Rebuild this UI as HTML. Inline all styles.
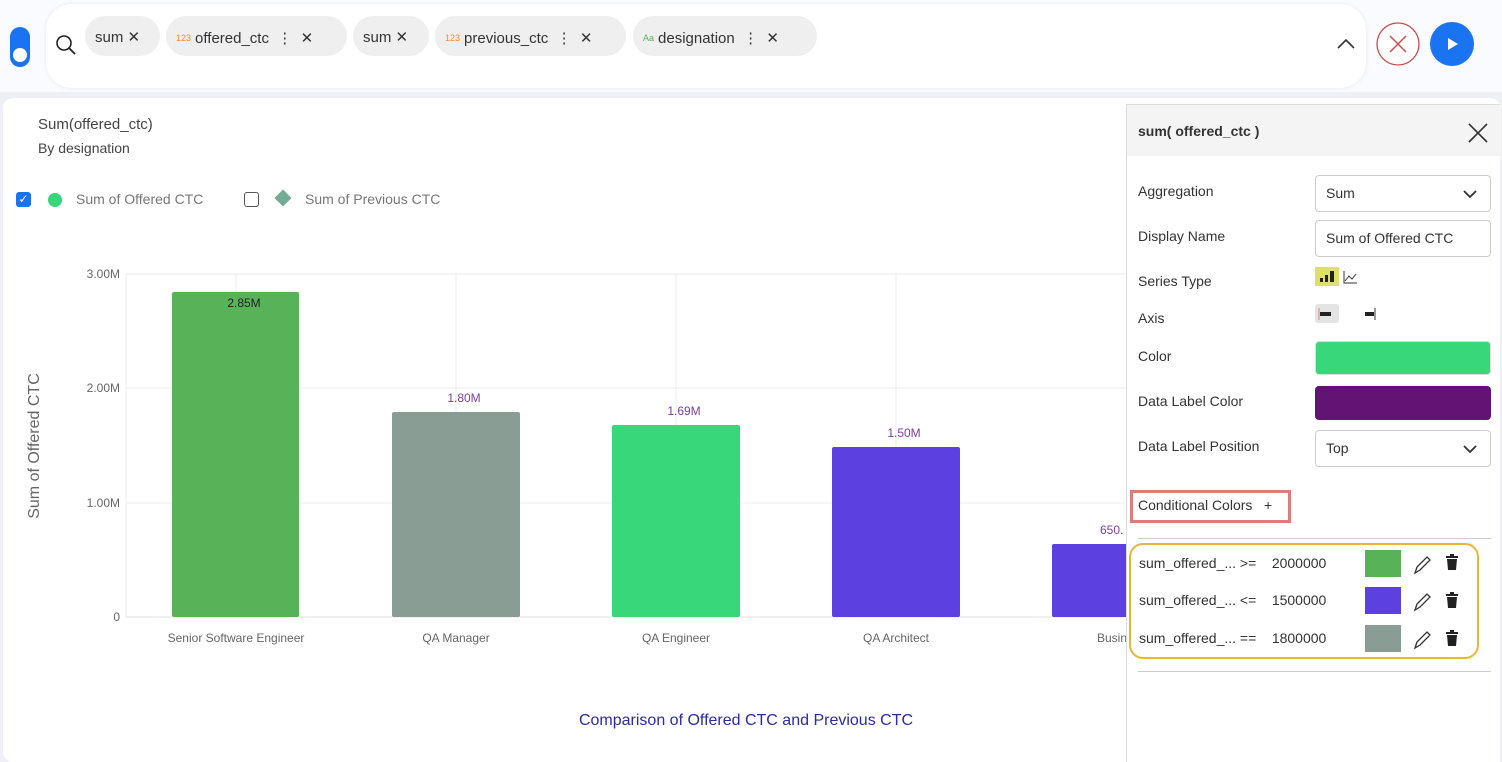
<!DOCTYPE html>
<html><head><style>
*{box-sizing:border-box;margin:0;padding:0}
body{width:1502px;height:762px;overflow:hidden;background:#eef0f6;font-family:"Liberation Sans",sans-serif;position:relative}
.abs{position:absolute}
.chip{position:absolute;top:16px;height:40px;background:#efefef;border-radius:20px;font-size:15px;color:#333;line-height:44px;padding-left:10px;white-space:nowrap}
.chip small{font-size:9px;color:#f08a3c;margin-right:4px;vertical-align:2px}
.lbl{position:absolute;left:11px;font-size:14px;color:#333}
.box{position:absolute;left:188px;width:176px;height:37px;border:1px solid #ccc;border-radius:4px;font-size:14px;color:#333;line-height:35px;padding-left:10px}
.cc{position:absolute;left:8px;font-size:14px;color:#333;white-space:nowrap}
.sw{position:absolute;left:234px;width:36px;height:27px}
</style></head><body>
<div class="abs" style="left:0;top:0;width:1502px;height:92px;background:#fafbfe"></div>
<div class="abs" style="left:10px;top:27px;width:20px;height:40px;border-radius:10px;background:#1a73f0"></div>
<div class="abs" style="left:13px;top:48px;width:14px;height:14px;border-radius:7px;background:#fff"></div>
<div class="abs" style="left:46px;top:4px;width:1320px;height:84px;background:#fff;border-radius:26px;box-shadow:0 0 4px #e4e8f4"></div>
<svg class="abs" style="left:55px;top:34px" width="22" height="22"><circle cx="9" cy="9" r="7" fill="none" stroke="#222" stroke-width="1.6"/><line x1="14" y1="14" x2="20" y2="20" stroke="#222" stroke-width="1.8"/></svg>
<div class="chip" style="left:85px;width:75px">sum ✕</div>
<div class="chip" style="left:166px;width:181px"><small>123</small>offered_ctc &nbsp;⋮ &nbsp;✕</div>
<div class="chip" style="left:353px;width:76px">sum ✕</div>
<div class="chip" style="left:435px;width:191px"><small>123</small>previous_ctc &nbsp;⋮ &nbsp;✕</div>
<div class="chip" style="left:633px;width:184px"><small style="color:#5cae5c">Aa</small>designation &nbsp;⋮ &nbsp;✕</div>
<svg class="abs" style="left:1336px;top:36px" width="20" height="14"><polyline points="2,12 10,4 18,12" fill="none" stroke="#333" stroke-width="1.6"/></svg>
<svg class="abs" style="left:1376px;top:22px" width="46" height="46"><circle cx="22" cy="22" r="21" fill="#fff" stroke="#d04a4a" stroke-width="1.3"/><path d="M14 14L30 30M30 14L14 30" stroke="#d04a4a" stroke-width="1.5"/></svg>
<svg class="abs" style="left:1430px;top:22px" width="44" height="44"><circle cx="22" cy="22" r="22" fill="#1a73f0"/><path d="M18 16L28 22L18 28Z" fill="#fff"/></svg>
<div class="abs" style="left:3px;top:98px;width:1497px;height:664px;background:#fff;border-radius:10px"></div>
<div class="abs" style="left:38px;top:116px;font-size:15px;color:#444">Sum(offered_ctc)</div>
<div class="abs" style="left:38px;top:140px;font-size:14px;color:#444">By designation</div>
<div class="abs" style="left:16px;top:192px;width:15px;height:15px;background:#1a73f0;border-radius:3px;color:#fff;font-size:12px;line-height:15px;text-align:center">✓</div>
<div class="abs" style="left:48px;top:193px;width:14px;height:14px;border-radius:7px;background:#36d67a"></div>
<div class="abs" style="left:76px;top:191px;font-size:14px;color:#777">Sum of Offered CTC</div>
<div class="abs" style="left:244px;top:192px;width:15px;height:15px;border:1.5px solid #555;border-radius:3px"></div>
<div class="abs" style="left:277px;top:192px;width:12px;height:12px;background:#74ab94;transform:rotate(45deg)"></div>
<div class="abs" style="left:305px;top:191px;font-size:14px;color:#777">Sum of Previous CTC</div>
<svg class="abs" style="left:0;top:0" width="1126" height="762" font-family="Liberation Sans, sans-serif">
<g stroke="#ececec" stroke-width="1">
<line x1="126" y1="274" x2="1126" y2="274"/><line x1="126" y1="388" x2="1126" y2="388"/><line x1="126" y1="503" x2="1126" y2="503"/>
<line x1="126" y1="274" x2="126" y2="617"/><line x1="236" y1="274" x2="236" y2="617"/><line x1="456" y1="274" x2="456" y2="617"/><line x1="676" y1="274" x2="676" y2="617"/><line x1="896" y1="274" x2="896" y2="617"/>
</g>
<line x1="126" y1="617" x2="1126" y2="617" stroke="#e0e0e0"/>
<g font-size="12" fill="#666" text-anchor="end"><text x="120" y="278">3.00M</text><text x="120" y="392">2.00M</text><text x="120" y="507">1.00M</text><text x="120" y="621">0</text></g>
<text transform="translate(39,446) rotate(-90)" font-size="16" fill="#666" text-anchor="middle">Sum of Offered CTC</text>
<rect x="172" y="292" width="127" height="325" fill="#58b258" rx="2"/>
<rect x="392" y="412" width="128" height="205" fill="#8a9d95" rx="2"/>
<rect x="612" y="425" width="128" height="192" fill="#37d77a" rx="2"/>
<rect x="832" y="447" width="128" height="170" fill="#5d40e0" rx="2"/>
<rect x="1052" y="544" width="80" height="73" fill="#5d40e0" rx="2"/>
<g font-size="12" text-anchor="middle"><text x="244" y="307" fill="#222">2.85M</text><text x="464" y="402" fill="#7a3fa0">1.80M</text><text x="684" y="415" fill="#7a3fa0">1.69M</text><text x="904" y="437" fill="#7a3fa0">1.50M</text><text x="1100" y="534" fill="#7a3fa0" text-anchor="start">650.</text></g>
<g font-size="12" fill="#666" text-anchor="middle"><text x="236" y="642">Senior Software Engineer</text><text x="456" y="642">QA Manager</text><text x="676" y="642">QA Engineer</text><text x="896" y="642">QA Architect</text><text x="1097" y="642" text-anchor="start">Business A</text></g>
<text x="746" y="725" font-size="16" fill="#2a2aa8" text-anchor="middle">Comparison of Offered CTC and Previous CTC</text>
</svg>
<div class="abs" style="left:1126px;top:104px;width:374px;height:658px;background:#fff;border-left:1px solid #ddd;border-top:1px solid #ddd">
<div class="abs" style="left:0;top:0;width:374px;height:51px;background:#f4f4f4"></div>
<div class="abs" style="left:11px;top:18px;font-size:14px;font-weight:bold;color:#333">sum( offered_ctc )</div>
<svg class="abs" style="left:340px;top:17px" width="22" height="22"><path d="M2 2L20 20M20 2L2 20" stroke="#333" stroke-width="1.6"/></svg>
<div class="lbl" style="top:78px">Aggregation</div>
<div class="box" style="top:70px">Sum<svg class="abs" style="left:146px;top:13px" width="16" height="10"><polyline points="2,2 8,8 14,2" fill="none" stroke="#333" stroke-width="1.8"/></svg></div>
<div class="lbl" style="top:123px">Display Name</div>
<div class="box" style="top:115px">Sum of Offered CTC</div>
<div class="lbl" style="top:168px">Series Type</div>
<div class="abs" style="left:188px;top:162px;width:24px;height:19px;background:#dfe06a"></div>
<svg class="abs" style="left:190px;top:164px" width="40" height="16"><rect x="3" y="9" width="3" height="4" fill="#222"/><rect x="8" y="6" width="3" height="7" fill="#222"/><rect x="13" y="2" width="4" height="11" fill="#222"/><path d="M27 2V14H40M28 12L32 7L35 10L39 5" fill="none" stroke="#333" stroke-width="1"/></svg>
<div class="lbl" style="top:205px">Axis</div>
<div class="abs" style="left:188px;top:199px;width:24px;height:19px;background:#e4e4e4;border-radius:3px"></div>
<svg class="abs" style="left:190px;top:202px" width="60" height="14"><path d="M2 1V13" stroke="#c88" stroke-width="1"/><rect x="3" y="5" width="11" height="4" fill="#222"/><rect x="48" y="5" width="9" height="4" fill="#222"/><path d="M58 1V13" stroke="#333"/></svg>
<div class="lbl" style="top:243px">Color</div>
<div class="abs" style="left:188px;top:236px;width:176px;height:34px;background:#37d77a;border-radius:4px;border:1px solid #ddd"></div>
<div class="lbl" style="top:288px">Data Label Color</div>
<div class="abs" style="left:188px;top:281px;width:176px;height:34px;background:#611473;border-radius:4px"></div>
<div class="lbl" style="top:333px">Data Label Position</div>
<div class="box" style="top:325px">Top<svg class="abs" style="left:146px;top:13px" width="16" height="10"><polyline points="2,2 8,8 14,2" fill="none" stroke="#333" stroke-width="1.8"/></svg></div>
<div class="abs" style="left:3px;top:385px;width:161px;height:33px;border:3px solid #e07b7b"></div>
<div class="abs" style="left:11px;top:392px;font-size:14px;color:#333">Conditional Colors &nbsp; +</div>
<div class="abs" style="left:11px;top:433px;width:353px;height:1px;background:#ccc"></div>
<div class="abs" style="left:2px;top:438px;width:350px;height:116px;border:2px solid #ebb535;border-radius:14px">
<div class="cc" style="top:10px">sum_offered_... &gt;= &nbsp;&nbsp; 2000000</div>
<div class="cc" style="top:47px">sum_offered_... &lt;= &nbsp;&nbsp; 1500000</div>
<div class="cc" style="top:85px">sum_offered_... == &nbsp;&nbsp; 1800000</div>
<div class="sw" style="top:5px;background:#58b258"></div>
<div class="sw" style="top:42px;background:#5d40e0"></div>
<div class="sw" style="top:80px;background:#8a9d95"></div>
<svg class="abs" style="left:280px;top:0" width="60" height="112">
<g fill="none" stroke="#333" stroke-width="1.3">
<path d="M4 28L6 22L16 12L19 15L9 25Z"/><path d="M4 65L6 59L16 49L19 52L9 62Z"/><path d="M4 103L6 97L16 87L19 90L9 100Z"/>
</g>
<g fill="#222">
<rect x="35" y="11" width="12" height="2"/><rect x="39" y="9" width="4" height="2"/><path d="M36 14H46L45 25H37Z"/>
<rect x="35" y="49" width="12" height="2"/><rect x="39" y="47" width="4" height="2"/><path d="M36 52H46L45 63H37Z"/>
<rect x="35" y="87" width="12" height="2"/><rect x="39" y="85" width="4" height="2"/><path d="M36 90H46L45 101H37Z"/>
</g>
</svg>
</div>
<div class="abs" style="left:11px;top:566px;width:353px;height:1px;background:#ccc"></div>
</div>
</body></html>
